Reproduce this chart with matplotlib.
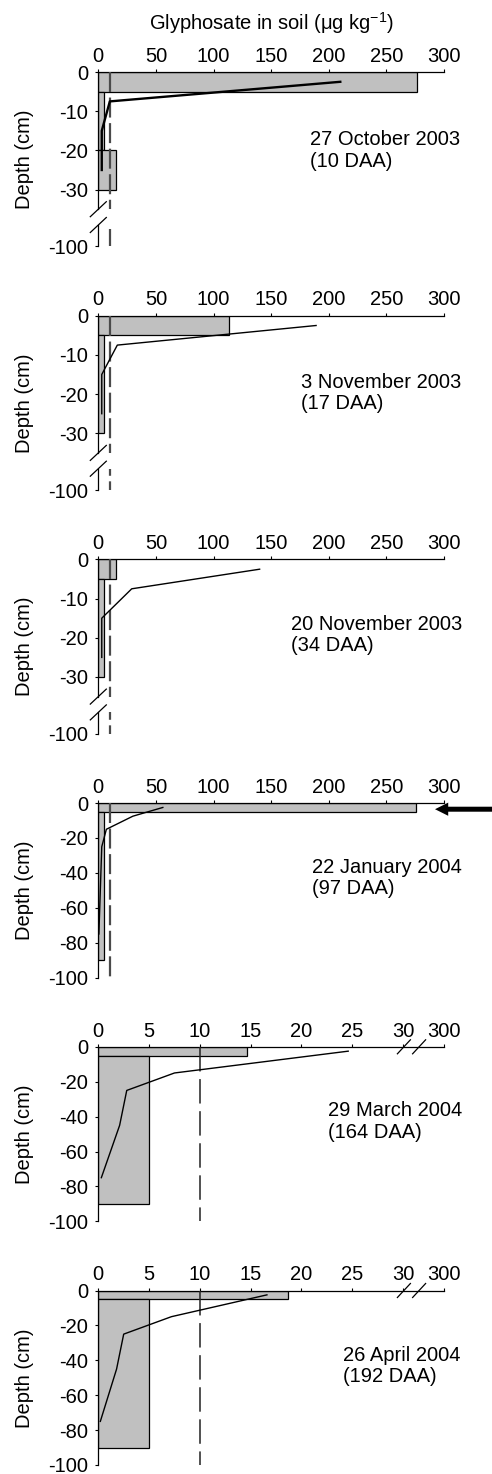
import numpy as np
import matplotlib
matplotlib.use("Agg")
import matplotlib.pyplot as plt

plt.rcParams['font.family'] = ['Liberation Sans', 'DejaVu Sans']
plt.rcParams['axes.unicode_minus'] = False
plt.rcParams['mathtext.default'] = 'regular'

# ----------------------------------------------------------
# data
# ----------------------------------------------------------
dates = ["27 October 2003\n(10 DAA)", "3 November 2003\n(17 DAA)",
         "20 November 2003\n(34 DAA)", "22 January 2004\n(97 DAA)",
         "29 March 2004\n(164 DAA)", "26 April 2004\n(192 DAA)"]

# measured glyphosate per soil layer (grey bars): layer top, layer bottom, value
bar_top = [[0, -5, -20], [0, -5], [0, -5], [0, -5], [0, -5], [0, -5]]
bar_bot = [[-5, -20, -30], [-5, -30], [-5, -30], [-5, -90], [-5, -90], [-5, -90]]
bar_val = [[277, 5, 15], [113, 5], [15, 5], [276, 5], [14.6, 5], [18.7, 5]]

# simulated profile (line)
sim_depth = [[-2.5, -7.5, -15, -25],
             [-2.5, -7.5, -15, -25],
             [-2.5, -7.5, -15, -25],
             [-2.5, -7.5, -15, -25, -75],
             [-2.5, -15, -25, -45, -75],
             [-2.5, -15, -25, -45, -75]]
sim_val = [[210, 10, 3, 3],
           [189, 16.5, 3, 3],
           [140, 29, 3, 3],
           [56, 30, 7, 3, 0.5],
           [24.6, 7.5, 2.8, 2.1, 0.3],
           [16.6, 7.2, 2.5, 1.8, 0.2]]

loq = 10  # dashed reference line

xticks_full = [0, 50, 100, 150, 200, 250, 300]
xticks_brk = [0, 5, 10, 15, 20, 25, 30, 300]
yticks_brk_up = [0, -10, -20, -30]
yticks_full = [0, -20, -40, -60, -80, -100]

# ----------------------------------------------------------
# layout (pixels)
# ----------------------------------------------------------
W, H = 492, 1474
X0, X1 = 98.3, 444.0
TOP0, STEP, PH = 72.0, 243.7, 174.5
PXCM = 3.92          # px per cm in the broken panels
LOW_START = 153.0    # start of the lower segment below the top line
FS = 14.5
text_left = [310, 301, 290.7, 311.7, 327.7, 343]
text_mid = [150.5, 393.3, 635.3, 878.3, 1121.5, 1366]

R = 4.03 / 270.0


def fwd(x):
    x = np.asarray(x, dtype=float)
    return np.where(x <= 30, x, 30 + (x - 30) * R)


def inv(y):
    y = np.asarray(y, dtype=float)
    return np.where(y <= 30, y, 30 + (y - 30) / R)


def rect(left, top, right, bottom):
    return [left / W, 1 - bottom / H, (right - left) / W, (bottom - top) / H]


def style(ax):
    ax.spines['right'].set_visible(False)
    ax.spines['bottom'].set_visible(False)
    for s in ('left', 'top'):
        ax.spines[s].set_linewidth(0.9)
    ax.xaxis.tick_top()
    ax.tick_params(axis='x', direction='out', length=2.5, width=0.8, pad=2,
                   labelsize=FS)
    ax.tick_params(axis='y', direction='out', length=2.5, width=0.8, pad=5,
                   labelsize=FS)


def draw(ax, i):
    hgt = np.array(bar_bot[i]) - np.array(bar_top[i])
    ax.barh(bar_top[i], bar_val[i], height=hgt, left=0, align='edge',
            color='#c0c0c0', edgecolor='black', linewidth=0.9, zorder=2)
    if i < 4:
        ax.plot([loq, loq], [0, -100], color='#4a4a4a', lw=1.6,
                ls=(0, (9, 2.5)), zorder=3)
    else:
        ax.plot([loq, loq], [0, -100], color='#222222', lw=1.1,
                ls=(0, (16, 5)), zorder=3)
    ax.plot(sim_val[i], sim_depth[i], color='black',
            lw=1.7 if i == 0 else 1.0, zorder=4)


fig = plt.figure(figsize=(W / 100, H / 100), dpi=100)

for i in range(6):
    top = TOP0 + STEP * i
    if i < 3:
        ax = fig.add_axes(rect(X0, top, X1, top + 35 * PXCM))
        axl = fig.add_axes(rect(X0, top + LOW_START, X1, top + PH))
        for a in (ax, axl):
            style(a)
            draw(a, i)
            a.set_xlim(0, 300)
        ax.set_ylim(-35, 0)
        ax.set_yticks(yticks_brk_up)
        ax.set_xticks(xticks_full)
        axl.set_ylim(-100, -100 + (PH - LOW_START) / PXCM)
        axl.set_yticks([-100])
        axl.set_xticks([])
        axl.spines['top'].set_visible(False)
        # break marks on the depth axis
        hu = 35 * PXCM
        hl = PH - LOW_START
        dx = 8 / (X1 - X0)
        ax.plot([-dx, dx], [-7.5 / hu, 7.5 / hu], transform=ax.transAxes,
                color='black', lw=0.9, clip_on=False)
        axl.plot([-dx, dx], [1 - 7.5 / hl, 1 + 7.5 / hl],
                 transform=axl.transAxes, color='black', lw=0.9, clip_on=False)
    else:
        ax = fig.add_axes(rect(X0, top, X1, top + PH))
        style(ax)
        if i >= 4:
            ax.set_xscale('function', functions=(fwd, inv))
        draw(ax, i)
        ax.set_xlim(0, 300)
        ax.set_ylim(-100, 0)
        ax.set_yticks(yticks_full)
        if i >= 4:
            ax.set_xticks(xticks_brk)
            ax.set_xticklabels([str(t) for t in xticks_brk])
            dx = 6.5 / (X1 - X0)
            dy = 7.0 / PH
            for cx in (0.884, 0.928):
                ax.plot([cx - dx, cx + dx], [1 - dy, 1 + dy],
                        transform=ax.transAxes, color='black', lw=0.9,
                        clip_on=False)
        else:
            ax.set_xticks(xticks_full)
    ax.minorticks_off()

    ax.set_ylabel('Depth (cm)', fontsize=FS, va='center', ha='center')
    ax.yaxis.set_label_coords(25 / W, 1 - (top + PH / 2) / H,
                              transform=fig.transFigure)

    fig.text(text_left[i] / W, 1 - text_mid[i] / H, dates[i], fontsize=FS,
             ha='left', va='center', linespacing=1.15)

    if i == 0:
        ax.xaxis.set_label_position('top')
        ax.set_xlabel('Glyphosate in soil (\u03bcg kg$^{-1}$)', fontsize=FS)
        ax.xaxis.label.set_va('center')
        ax.xaxis.set_label_coords(271 / W, 1 - 23 / H,
                                  transform=fig.transFigure)
    if i == 3:
        ax.annotate('', xy=(0.974, -3.5), xytext=(1.16, -3.5),
                    xycoords=('axes fraction', 'data'),
                    textcoords=('axes fraction', 'data'),
                    arrowprops=dict(arrowstyle='simple,head_length=0.95,'
                                    'head_width=0.95,tail_width=0.36',
                                    mutation_scale=10, color='black', lw=0,
                                    shrinkA=0, shrinkB=0),
                    annotation_clip=False)

fig.savefig('out.png', dpi=100)
